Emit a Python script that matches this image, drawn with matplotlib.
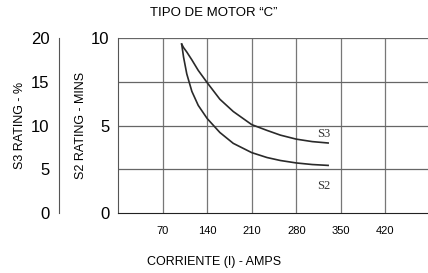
import matplotlib.pyplot as plt
from matplotlib import rcParams

rcParams['font.family'] = ['Liberation Sans', 'DejaVu Sans']

# Curve readings (amps vs rating)
amps = [100, 103, 108, 116, 126, 140, 160, 181, 210, 234, 255, 280, 305, 330]
s3_curve = [9.65, 9.45, 9.2, 8.75, 8.15, 7.45, 6.5, 5.8, 5.05, 4.72, 4.45, 4.22, 4.08, 4.0]
s2_curve = [9.65, 8.9, 7.95, 6.95, 6.15, 5.4, 4.6, 3.98, 3.45, 3.17, 3.0, 2.86, 2.77, 2.72]

x_ticks = [70, 140, 210, 280, 350, 420]
s2_ticks = [0, 5, 10]
s3_ticks = [0, 5, 10, 15, 20]

W, H = 428, 273
fig = plt.figure(figsize=(W / 100, H / 100), dpi=100)

bottom = (H - 213) / H
height = 175 / H
ax = fig.add_axes([118 / W, bottom, (430 - 118) / W, height])

ax.set_xlim(0, 490)
ax.set_ylim(0, 10)

# Grid
for gx in x_ticks:
    ax.axvline(gx, color='#777777', lw=0.9, zorder=1)
for gy in [2.5, 5, 7.5, 10]:
    ax.axhline(gy, color='#666666', lw=0.9, zorder=1)

ax.plot(amps, s3_curve, color='#2a2a2a', lw=1.2, zorder=3)
ax.plot(amps, s2_curve, color='#2a2a2a', lw=1.2, zorder=3)

ax.text(313, 4.35, 'S3', family=['Liberation Serif'], fontsize=9, color='#333333')
ax.text(313, 1.35, 'S2', family=['Liberation Serif'], fontsize=9, color='#333333')

ax.set_xticks(x_ticks)
ax.set_xticklabels([str(t) for t in x_ticks], fontsize=8)
ax.set_yticks(s2_ticks)
ax.set_yticklabels([str(t) for t in s2_ticks], fontsize=12)
ax.tick_params(axis='x', length=0, pad=9)
ax.tick_params(axis='y', length=0, pad=6)

for side in ['top', 'right']:
    ax.spines[side].set_visible(False)
ax.spines['left'].set_color('#555555')
ax.spines['bottom'].set_color('#222222')

ax.set_ylabel('S2 RATING - MINS', fontsize=9)
ax.yaxis.set_label_coords(-(118 - 87) / (430 - 118), 0.5)
ax.set_xlabel('CORRIENTE (I) - AMPS', fontsize=9)
ax.xaxis.set_label_coords((214 - 118) / (430 - 118), -(262 - 213) / 175)
ax.xaxis.label.set_va('center')

# Secondary scale for S3 rating
ax2 = fig.add_axes([59 / W, bottom, 0.001, height])
ax2.set_ylim(0, 20)
ax2.set_xticks([])
ax2.set_yticks(s3_ticks)
ax2.set_yticklabels([str(t) for t in s3_ticks], fontsize=12)
ax2.tick_params(axis='y', length=0, pad=7)
for side in ['top', 'right', 'bottom']:
    ax2.spines[side].set_visible(False)
ax2.spines['left'].set_color('#555555')
ax2.patch.set_visible(False)
ax2.set_ylabel('S3 RATING - %', fontsize=9)
ax2.yaxis.set_label_coords(-(59 - 26) / (0.001 * W), 0.5)

fig.text(214 / W, 1 - 13 / H, 'TIPO DE MOTOR \u201cC\u201d', ha='center', va='center',
         fontsize=9.5)

fig.savefig('out.png', dpi=100)
